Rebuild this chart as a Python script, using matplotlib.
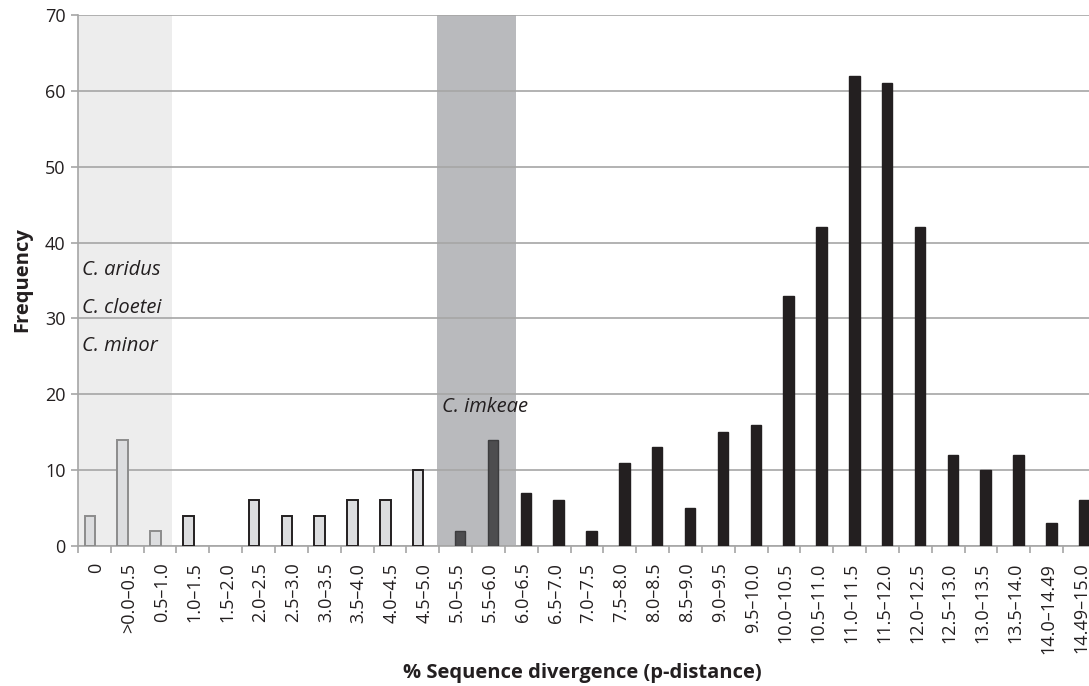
import numpy as np
import matplotlib.pyplot as plt

plt.rcParams['font.family'] = ['Open Sans', 'DejaVu Sans']

# divergence classes and pairwise comparison counts
categories = ['0', '>0.0–0.5', '0.5–1.0', '1.0–1.5', '1.5–2.0', '2.0–2.5',
              '2.5–3.0', '3.0–3.5', '3.5–4.0', '4.0–4.5', '4.5–5.0',
              '5.0–5.5', '5.5–6.0', '6.0–6.5', '6.5–7.0', '7.0–7.5',
              '7.5–8.0', '8.0–8.5', '8.5–9.0', '9.0–9.5', '9.5–10.0',
              '10.0–10.5', '10.5–11.0', '11.0–11.5', '11.5–12.0',
              '12.0–12.5', '12.5–13.0', '13.0–13.5', '13.5–14.0',
              '14.0–14.49', '14.49–15.0']
frequency = [4, 14, 2, 4, 0, 6, 4, 4, 6, 6, 10,
             2, 14, 7, 6, 2, 11, 13, 5, 15, 16,
             33, 42, 62, 61, 42, 12, 10, 12, 3, 6]
# first 11 classes are within-species comparisons
n_within = 11

ink = '#231f20'
grid_col = '#a6a6a6'

fig = plt.figure(figsize=(10.89, 6.86), dpi=100)
ax = fig.add_axes([0.0716, 0.2041, 0.9348, 0.774])

x = np.arange(len(categories))
freq = np.array(frequency)
within = x < n_within
between = ~within

# shaded species groups
ax.axvspan(0, 2.86, color='#ededed', zorder=0, lw=0)
ax.axvspan(10.94, 13.33, color='#b9babd', zorder=0, lw=0)

ax.set_axisbelow(True)
ax.yaxis.grid(True, color=grid_col, lw=1.2, zorder=1)

w = 0.32
light_edges = [('#8c8c8c' if i < 3 else ink) for i in x[within]]
light_lw = [(1.4 if v > 0 else 0) for v in freq[within]]
ax.bar(x[within] + 0.5 - 0.14, freq[within], width=w,
       color='#dcdddf', edgecolor=light_edges, linewidth=light_lw, zorder=3)

dark_faces = [('#4d4d4f' if 11 <= i <= 12 else ink) for i in x[between]]
dark_edges = [('#3c3c3e' if 11 <= i <= 12 else ink) for i in x[between]]
ax.bar(x[between] + 0.5 + 0.14, freq[between], width=w,
       color=dark_faces, edgecolor=dark_edges, linewidth=1.0, zorder=3)

ax.set_xlim(0, len(categories))
ax.set_ylim(0, 70)
ax.set_yticks(range(0, 71, 10))
ax.tick_params(axis='y', length=5, color=grid_col, width=1.2,
               labelsize=13, labelcolor=ink, pad=4)

ax.set_xticks(np.arange(len(categories) + 1), minor=True)
ax.set_xticks(x + 0.55)
ax.set_xticklabels(categories, rotation=90, fontsize=13, color=ink)
ax.tick_params(axis='x', which='major', length=0, pad=12)
ax.tick_params(axis='x', which='minor', length=5, color=grid_col, width=1.2)

for side in ['top', 'right']:
    ax.spines[side].set_visible(False)
ax.spines['left'].set_color(grid_col)
ax.spines['left'].set_linewidth(1.2)
ax.spines['bottom'].set_color(grid_col)
ax.spines['bottom'].set_linewidth(1.2)

for label, yv in [('C. aridus', 36.4), ('C. cloetei', 31.4), ('C. minor', 26.4)]:
    ax.text(0.12, yv, label, style='italic', fontsize=14.5, color=ink,
            va='center', ha='left', zorder=4)
ax.text(11.1, 18.3, 'C. imkeae', style='italic', fontsize=14.5, color=ink,
        va='center', ha='left', zorder=4)

fig.text(0.02, 0.593, 'Frequency', rotation=90, fontsize=14.5, fontweight='bold',
         color=ink, ha='center', va='center')
fig.text(0.535, 0.019, '% Sequence divergence (p-distance)', fontsize=14.5,
         fontweight='bold', color=ink, ha='center', va='center')

fig.savefig('out.png', dpi=100)
